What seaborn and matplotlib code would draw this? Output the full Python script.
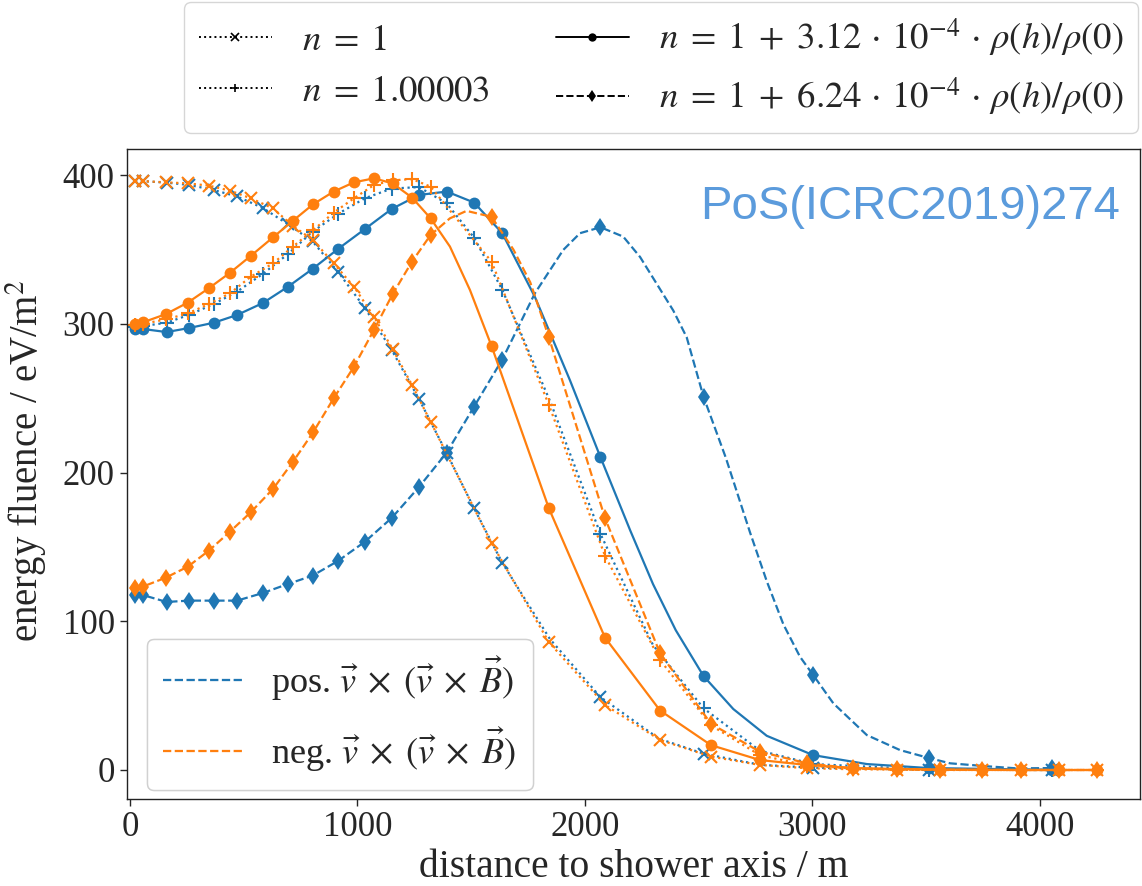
import numpy as np
import pandas as pd
import matplotlib
matplotlib.use("Agg")
import matplotlib.pyplot as plt
import seaborn as sns
from matplotlib.lines import Line2D

# ---------------- data ----------------
# distance to shower axis (m) of the antennas on the positive / negative v x (v x B) arm
pos_x = [22, 56, 161, 259, 369, 471, 584, 695, 803, 915, 1033, 1151, 1271, 1393,
         1513, 1637, 2069, 2522, 3004, 3512, 4053]
neg_x = [22, 56, 157, 254, 347, 440, 531, 629, 717, 805, 896, 985, 1073, 1155, 1240,
         1322, 1590, 1842, 2089, 2331, 2555, 2770, 2977, 3179, 3373, 3562, 3745, 3917,
         4085, 4251]

# energy fluence (eV/m^2) at the antennas, positive arm
pos_n1 = [396, 396, 395, 393.5, 390, 385.7, 378, 367, 355.5, 335, 310.7, 282.4, 249.5,
          213, 176, 139.4, 49, 11, 1.5, 0.2, 0]
pos_n1e = [298, 298.5, 300.8, 306, 313.4, 321.7, 333.6, 347, 362, 374, 384.5, 391, 392,
           381, 358, 323, 158.7, 41.5, 4, 0.3, 0]
pos_rho1 = [296.6, 296.6, 294.5, 297.2, 300.8, 306, 314, 325, 337, 350.4, 363.8, 377.3,
            386.7, 389, 381.6, 361, 210.3, 63.2, 10, 1.3, 0.1]
pos_rho2 = [117.7, 117.7, 113, 113.9, 113.9, 113.9, 119, 125.1, 130.7, 140.6, 153.5,
            169.5, 190.3, 213.5, 244.3, 276, 365, 251, 63.9, 8.1, 1.3]

# energy fluence (eV/m^2) at the antennas, negative arm
neg_n1 = [396, 396, 395.2, 394.5, 393, 389.6, 384.5, 377.7, 365.8, 356.4, 340.7, 325,
          304.8, 283, 259, 234.2, 152.6, 86, 43.7, 20.2, 9, 3.4, 1.2, 0.5, 0.2, 0, 0, 0,
          0, 0]
neg_n1e = [299.5, 300, 303, 307, 313.4, 320.6, 331.7, 340.7, 352, 363, 374.8, 384.5,
           393.4, 396.5, 397.4, 392.3, 341.8, 245.5, 144, 74, 30, 10, 3, 1, 0.3, 0.1, 0,
           0, 0, 0]
neg_rho1 = [300, 301, 306.5, 314.3, 324, 334.4, 345.7, 358.2, 369.4, 380.4, 389, 395.2,
            397.9, 394.5, 385, 371, 285.1, 176, 89, 40, 16.7, 6.7, 3.4, 1.3, 0.7, 0.3,
            0.1, 0, 0, 0]
neg_rho2 = [122.2, 123.3, 129.3, 136.7, 147.5, 160.3, 173.3, 189, 207.3, 227, 250,
            271.2, 296, 320, 341.8, 359.8, 372, 291, 169.3, 78.5, 31, 12.3, 4.5, 1.1,
            0.5, 0.2, 0.1, 0, 0, 0]

pos_n1_lx = [1847, 2327, 2770]
pos_n1_ly = [88, 21, 3.5]
pos_n1e_lx = [1850, 2300, 2770]
pos_n1e_ly = [247, 84, 13]
pos_rho1_lx = [1781, 1935, 2200, 2300, 2400, 2653, 2800, 3240]
pos_rho1_ly = [318, 262, 161, 125, 94, 41, 23, 4]
pos_rho2_lx = [1781, 1905, 1979, 2169, 2243, 2316, 2389, 2448, 2620, 2726, 2800,
               2873, 2946, 3093, 3240, 3386, 3606, 3751, 3899]
pos_rho2_ly = [320.7, 349.7, 361, 358.7, 345, 327, 309, 291, 210, 160, 127,
               98, 76.2, 44.8, 23.5, 13.4, 4.5, 2.7, 1.1]
neg_n1_lx = []
neg_n1_ly = []
neg_n1e_lx = []
neg_n1e_ly = []
neg_rho1_lx = [1407, 1495]
neg_rho1_ly = [352, 322.8]
neg_rho2_lx = [1407, 1480, 1686, 1760]
neg_rho2_ly = [371, 376, 350, 328]

model_labels = [r"$n\;=\;1$", r"$n\;=\;1.00003$",
                r"$n\;=\;1\;+\;3.12\,\cdot\,10^{-4}\,\cdot\,\rho(h)/\rho(0)$",
                r"$n\;=\;1\;+\;6.24\,\cdot\,10^{-4}\,\cdot\,\rho(h)/\rho(0)$"]
arm_labels = [r"pos. $\vec{v}\;\times\;(\vec{v}\;\times\;\vec{B})$",
              r"neg. $\vec{v}\;\times\;(\vec{v}\;\times\;\vec{B})$"]
xlabel = "distance to shower axis / m"
ylabel = r"energy fluence / eV/m$^2$"
watermark = "PoS(ICRC2019)274"

# ---------------- style ----------------
sns.set_theme(style="ticks")
plt.rcParams["font.family"] = ["Liberation Serif", "DejaVu Serif"]
plt.rcParams["mathtext.fontset"] = "stix"
plt.rcParams["axes.edgecolor"] = "#222222"
plt.rcParams["axes.linewidth"] = 1.0

blue = "#1f77b4"
orange = "#ff7f0e"
styles = [(":", "x", 9, 1.5), (":", "+", 10, 1.5), ("-", "o", 8.5, 0), ("--", "d", 9.5, 0)]

fig = plt.figure(figsize=(11.42, 8.86), dpi=100)
ax = fig.add_axes([0.1109, 0.0982, 0.8873, 0.7336])

arms = [(pos_x, [pos_n1, pos_n1e, pos_rho1, pos_rho2],
         [(pos_n1_lx, pos_n1_ly), (pos_n1e_lx, pos_n1e_ly), (pos_rho1_lx, pos_rho1_ly),
          (pos_rho2_lx, pos_rho2_ly)], blue),
        (neg_x, [neg_n1, neg_n1e, neg_rho1, neg_rho2],
         [(neg_n1_lx, neg_n1_ly), (neg_n1e_lx, neg_n1e_ly), (neg_rho1_lx, neg_rho1_ly),
          (neg_rho2_lx, neg_rho2_ly)], orange)]
for xs, ys_list, extra_list, col in arms:
    for ys, (ex, ey), (ls, mk, ms, mew) in zip(ys_list, extra_list, styles):
        line_df = pd.DataFrame({"x": list(xs) + list(ex), "y": list(ys) + list(ey)})
        line_df = line_df.sort_values("x")
        sns.lineplot(data=line_df, x="x", y="y", ax=ax, color=col, linestyle=ls, lw=1.6,
                     sort=False, estimator=None, legend=False)
        mk_df = pd.DataFrame({"x": xs, "y": ys})
        sns.lineplot(data=mk_df, x="x", y="y", ax=ax, color=col, linestyle="none",
                     marker=mk, markersize=ms,
                     markeredgewidth=(1.5 if mk in "x+" else 0),
                     markeredgecolor=col, sort=False, estimator=None, legend=False)

ax.set_xlim(-14.5, 4441)
ax.set_ylim(-19.5, 417.6)
ax.set_xticks([0, 1000, 2000, 3000, 4000])
ax.set_yticks([0, 100, 200, 300, 400])
ax.tick_params(labelsize=25, length=5, width=1, direction="out")
ax.set_xlabel(xlabel, fontsize=28.5, labelpad=4)
ax.set_ylabel(ylabel, fontsize=28, labelpad=6)
ax.yaxis.set_label_coords(-0.077, 0.52)

# lower legend: arms
arm_handles = [Line2D([], [], color=blue, ls="--", lw=1.6),
               Line2D([], [], color=orange, ls="--", lw=1.6)]
leg1 = ax.legend(arm_handles, arm_labels, loc="lower left", fontsize=26,
                 bbox_to_anchor=(0.02, 0.014), borderaxespad=0, handlelength=2.2,
                 labelspacing=0.62, borderpad=0.45,
                 framealpha=0.8, edgecolor="#cccccc", fancybox=True)
ax.add_artist(leg1)

# upper legend: refractive index models
mod_handles = []
for ls, mk, ms, mew in styles:
    mod_handles.append(Line2D([], [], color="black", ls=ls, lw=1.4, marker=mk,
                              markersize=6, markeredgewidth=(1.2 if mk in "x+" else 0)))
fig.legend(mod_handles, model_labels, loc="upper right", ncol=2, fontsize=26.5,
           bbox_to_anchor=(1138 / 1142, 1 - 2 / 886), borderaxespad=0,
           handlelength=2.0, columnspacing=1.8, labelspacing=0.46, framealpha=0.8,
           edgecolor="#cccccc", fancybox=True)

fig.text(1120 / 1142, 1 - 207 / 886, watermark, ha="right", va="center",
         fontsize=34, color="#5b9bdc", family="Liberation Sans")

fig.savefig("out.png", dpi=100)
